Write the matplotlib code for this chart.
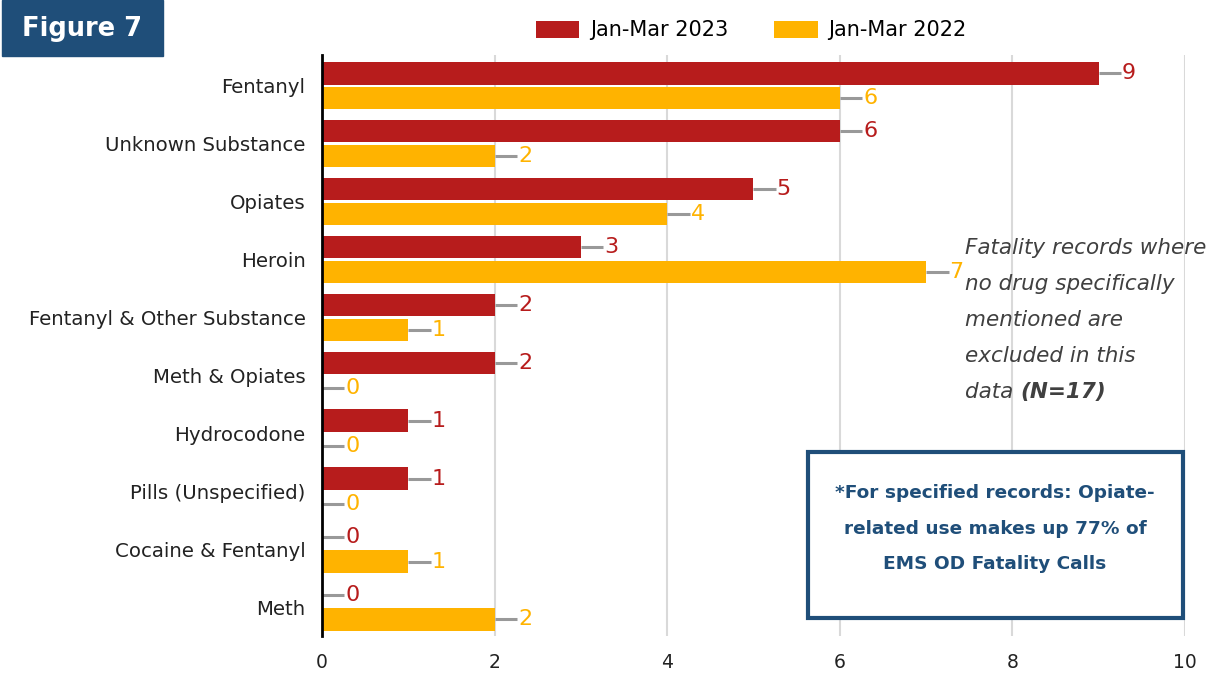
import matplotlib.pyplot as plt
import matplotlib.patches as patches
import numpy as np

categories = ["Fentanyl", "Unknown Substance", "Opiates", "Heroin",
              "Fentanyl & Other Substance", "Meth & Opiates", "Hydrocodone",
              "Pills (Unspecified)", "Cocaine & Fentanyl", "Meth"]
vals_2023 = [9, 6, 5, 3, 2, 2, 1, 1, 0, 0]
vals_2022 = [6, 2, 4, 7, 1, 0, 0, 0, 1, 2]
series_names = ["Jan-Mar 2023", "Jan-Mar 2022"]
xticks = [0, 2, 4, 6, 8, 10]

red = "#B71C1C"
yellow = "#FFB300"
navy = "#1F4E79"

plt.rcParams['font.family'] = ['DejaVu Sans']

fig = plt.figure(figsize=(12.25, 6.77), dpi=100)
ax = fig.add_axes([0.2629, 0.0606, 0.7044, 0.8582])

y = np.arange(len(categories))
h = 0.39
off = 0.215
ax.barh(y - off, vals_2023, height=h, color=red, label=series_names[0], zorder=3)
ax.barh(y + off, vals_2022, height=h, color=yellow, label=series_names[1], zorder=3)

# leader lines + value labels
lead = 0.26
for vals, dy, col in [(vals_2023, -off, red), (vals_2022, off, yellow)]:
    for i, v in enumerate(vals):
        ax.plot([v, v + lead], [i + dy, i + dy], color="#999999", lw=2.2,
                zorder=2, solid_capstyle='butt')
        ax.text(v + lead + 0.01, i + dy, str(v), color=col, fontsize=16,
                va='center', ha='left', zorder=4)

ax.set_xlim(0, 10)
ax.set_ylim(9.5, -0.53)
ax.set_xticks(xticks)
ax.set_yticks(y)
ax.set_yticklabels(categories, fontsize=14.2, color="#222222")
ax.tick_params(axis='x', labelsize=13.5, length=0, pad=12, colors="#222222")
ax.tick_params(axis='y', length=0, pad=12)
ax.grid(axis='x', color="#D9D9D9", lw=1.5, zorder=0)
for s in ['top', 'right', 'bottom']:
    ax.spines[s].set_visible(False)
ax.spines['left'].set_color('black')
ax.spines['left'].set_linewidth(2)
ax.spines['left'].set_zorder(5)

leg = fig.legend(loc='center', bbox_to_anchor=(0.613, 0.955), ncol=2,
                 frameon=False, fontsize=15, handlelength=2.1, handleheight=0.9,
                 columnspacing=2.2, handletextpad=0.5)

# Figure 7 badge
fig.patches.append(patches.Rectangle((0.002, 0.918), 0.131, 0.082,
                                     transform=fig.transFigure, color=navy,
                                     zorder=1))
fig.text(0.067, 0.957, "Figure 7", color='white', fontsize=18.5,
         fontweight='bold', ha='center', va='center')

# side note
note = ["Fatality records where", "no drug specifically",
        "mentioned are", "excluded in this"]
for k, line in enumerate(note):
    fig.text(0.788, 1 - (248 + 36 * k) / 677, line, fontsize=15.5,
             style='italic', color="#404040", va='center', ha='left')
t = fig.text(0.788, 1 - (392) / 677, "data ", fontsize=15.5, style='italic',
             color="#404040", va='center', ha='left')
fig.canvas.draw()
bb = t.get_window_extent()
fig.text(bb.x1 / fig.bbox.width, 1 - 392 / 677, "(N=17)", fontsize=15.5,
         style='italic', fontweight='bold', color="#404040", va='center',
         ha='left')

# callout box
box = patches.Rectangle((808 / 1225, 1 - 618 / 677), 375 / 1225, 166 / 677,
                        transform=fig.transFigure, facecolor='white',
                        edgecolor=navy, lw=3, zorder=6)
fig.patches.append(box)
callout = ["*For specified records: Opiate-", "related use makes up 77% of",
           "EMS OD Fatality Calls"]
for k, line in enumerate(callout):
    fig.text(995 / 1225, 1 - (493 + 35.5 * k) / 677, line, fontsize=13.3,
             fontweight='bold', color=navy, ha='center', va='center', zorder=7)

fig.savefig("out.png", dpi=100, facecolor='white')
